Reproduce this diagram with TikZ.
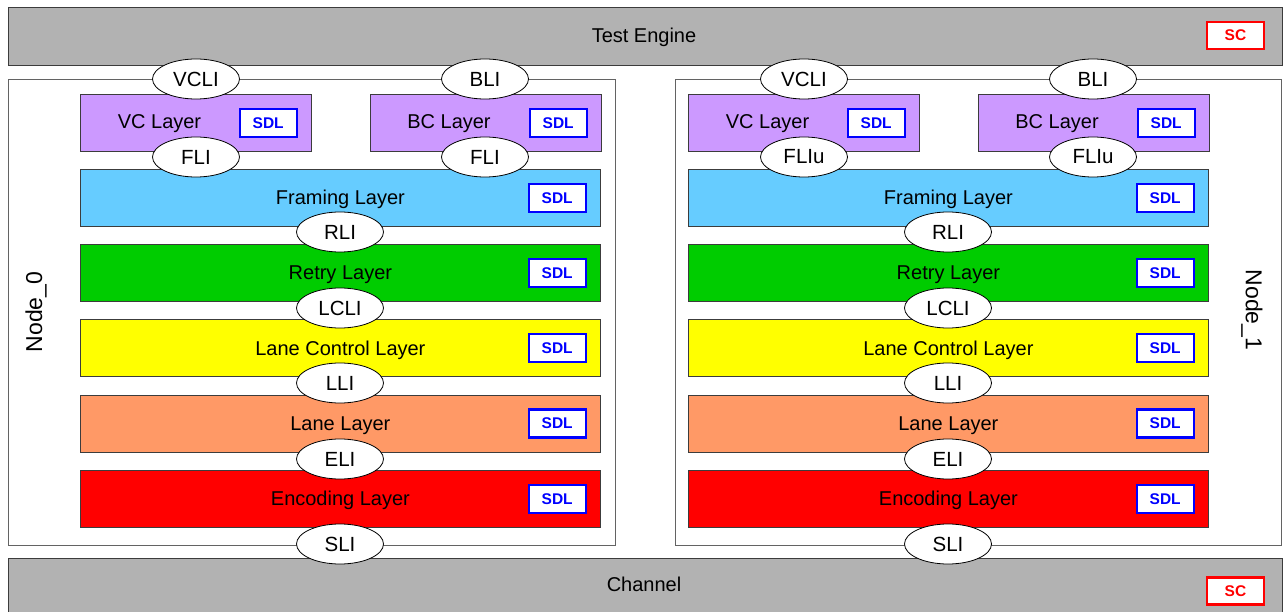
\documentclass[tikz,border=0pt]{standalone}
\usepackage{fontspec}
\setmainfont{Liberation Sans}
\usetikzlibrary{shapes.geometric}

\definecolor{panelgrey}{HTML}{B2B2B2}
\definecolor{vcpurple}{HTML}{CC99FF}
\definecolor{framingblue}{HTML}{66CCFF}
\definecolor{retrygreen}{HTML}{00CC00}
\definecolor{lanectlyellow}{HTML}{FFFF00}
\definecolor{laneorange}{HTML}{FF9966}
\definecolor{encred}{HTML}{FF0000}
\definecolor{edgegrey}{HTML}{3C3C3C}

\tikzset{
  txt/.style={font=\fontsize{20}{24}\selectfont, inner sep=0},
  layertxt/.style={font=\fontsize{20}{24}\selectfont, inner sep=0, anchor=base},
  panel/.style={draw=edgegrey, line width=1pt, fill=panelgrey, anchor=north west, inner sep=0},
  nodeframe/.style={draw=edgegrey!80, line width=1pt, fill=white, anchor=north west, inner sep=0},
  layerbox/.style={draw=edgegrey, line width=0.8pt, minimum height=57, anchor=north west, inner sep=0},
  sdlbox/.style={draw=blue, line width=2.2pt, fill=white, minimum width=57, minimum height=28,
    inner sep=0, text=blue, font=\fontsize{15.5}{18}\selectfont\bfseries, anchor=east},
  scbox/.style={draw=red, line width=2.2pt, fill=white, minimum width=57, minimum height=27,
    inner sep=0, text=red, font=\fontsize{15.5}{18}\selectfont\bfseries},
  iface/.style={ellipse, draw=black, line width=0.8pt, fill=white, minimum width=87, minimum height=40,
    inner sep=0, font=\fontsize{20.5}{24}\selectfont},
  nodelabel/.style={font=\fontsize{23}{27}\selectfont, inner sep=0},
}

% One protocol stack: #1 = name prefix, #2 = horizontal shift
\newcommand\protostack[2]{%
  \begin{scope}[shift={(#2,0)}]
    % upper pair of layers
    \node[layerbox, fill=vcpurple, minimum width=231] (#1vc) at (80,94) {};
    \node[sdlbox] (#1vcsdl) at ([xshift=-14]#1vc.east) {SDL};
    \node[layertxt] (#1vctxt) at (159.5,129) {VC Layer};
    \node[layerbox, fill=vcpurple, minimum width=231] (#1bc) at (370,94) {};
    \node[sdlbox] (#1bcsdl) at ([xshift=-14]#1bc.east) {SDL};
    \node[layertxt] (#1bctxt) at (449,129) {BC Layer};
    % full-width layers
    \foreach \nm/\col/\top/\lbl in {fr/framingblue/169/Framing Layer,
                                   rt/retrygreen/244.2/Retry Layer,
                                   lc/lanectlyellow/319.4/Lane Control Layer,
                                   ln/laneorange/394.6/Lane Layer,
                                   en/encred/469.8/Encoding Layer}{
      \node[layerbox, fill=\col, minimum width=520] (#1\nm) at (80,\top) {};
      \node[sdlbox] (#1\nm sdl) at ([xshift=-14]#1\nm.east) {SDL};
      \node[layertxt] (#1\nm txt) at ([yshift=-6.8]#1\nm.center) {\lbl};
    }
  \end{scope}
}

% Interfaces of one stack: #1 = name prefix, #2 = horizontal shift, #3 = FLI suffix
\newcommand\protoifaces[3]{%
  \begin{scope}[shift={(#2,0)}]
    \node[iface] (#1vcli) at (196,79) {VCLI};
    \node[iface] (#1bli)  at (485,79) {BLI};
    \node[iface] (#1fla)  at (196,157) {FLI#3};
    \node[iface] (#1flb)  at (485,157) {FLI#3};
    \node[iface] (#1rli)  at (340,232) {RLI};
    \node[iface] (#1lcli) at (340,308) {LCLI};
    \node[iface] (#1lli)  at (340,383) {LLI};
    \node[iface] (#1eli)  at (340,459) {ELI};
    \node[iface] (#1sli)  at (340,544) {SLI};
  \end{scope}
}

\begin{document}
\begin{tikzpicture}[x=1pt, y=-1pt]
  \useasboundingbox (0,0) rectangle (1283,612);
  \fill[white] (0,0) rectangle (1283,612);

  % test engine and channel
  \node[panel, minimum width=1274, minimum height=58] (engine) at (7.5,7.5) {};
  \node[layertxt] (enginetxt) at (644,43) {Test Engine};
  \node[scbox] (enginesc) at (1235.5,35.5) {SC};

  \node[panel, minimum width=1274, minimum height=70] (channel) at (7.5,557.5) {};
  \node[layertxt] (channeltxt) at (644,591) {Channel};
  \node[scbox] (channelsc) at (1235.5,591) {SC};

  % node frames
  \node[nodeframe, minimum width=607, minimum height=466] (nodeA) at (8,79) {};
  \node[nodeframe, minimum width=606, minimum height=466] (nodeB) at (675,79) {};
  \node[nodelabel, rotate=90] (nodeAlbl) at (36,312) {Node\_0};
  \node[nodelabel, rotate=-90] (nodeBlbl) at (1252,310) {Node\_1};

  \protostack{a}{0}
  \protostack{b}{608}
  \protoifaces{a}{0}{}
  \protoifaces{b}{608}{u}
\end{tikzpicture}
\end{document}
